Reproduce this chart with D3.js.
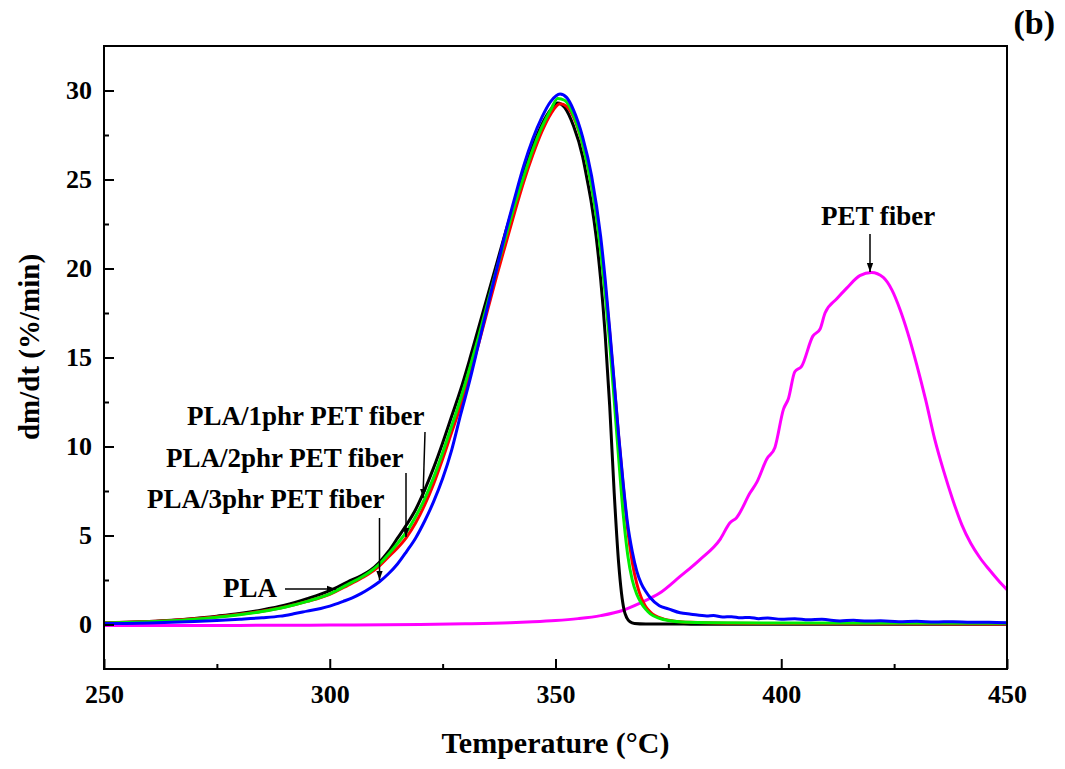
<!DOCTYPE html>
<html>
<head>
<meta charset="utf-8">
<script src="https://cdn.jsdelivr.net/npm/d3@7"></script>
<style>
  html, body { margin: 0; padding: 0; background: #fff; }
  svg { display: block; }
  text { font-family: "Liberation Serif", "Times New Roman", serif; font-weight: bold; fill: #000; }
</style>
</head>
<body>
<svg id="chart" width="1065" height="769"></svg>
<script>
// ---------- data (temperature °C, dm/dt %/min) ----------
const plaData = [[250,0.08],[255,0.12],[260,0.17],[265,0.24],[270,0.34],[275,0.47],[280,0.62],[285,0.82],[290,1.08],[295,1.45],[300,1.9],[304,2.4],[307,2.75],[309,3.05],[311,3.5],[313,4.1],[315,4.85],[317,5.6],[319,6.45],[321,7.55],[323,8.8],[325,10.2],[327,11.7],[329,13.2],[331,14.9],[333,16.7],[335,18.5],[337,20.3],[339,22.1],[341,23.8],[343,25.4],[345,26.9],[347,28.1],[349,28.95],[350.5,29.3],[352,29.05],[354,28.0],[356,26.3],[357,25.0],[358,23.6],[359,21.8],[360,19.4],[361,16.3],[362,12.3],[363,7.4],[364,3.4],[364.6,1.8],[365.2,0.8],[365.8,0.37],[366.5,0.15],[367.5,0.06],[370,0.03],[380,0.02],[400,0.01],[450,0.01]];

const pla1Data = [[250,0.1],[255,0.13],[260,0.17],[265,0.23],[270,0.32],[275,0.43],[280,0.57],[285,0.75],[290,0.98],[295,1.3],[300,1.7],[304,2.2],[307,2.6],[309,2.9],[311,3.3],[313,3.8],[315,4.3],[317,4.9],[319,5.7],[321,6.7],[323,7.9],[325,9.3],[327,10.8],[329,12.3],[331,14.0],[333,15.8],[335,17.7],[337,19.6],[339,21.4],[341,23.2],[343,24.9],[345,26.4],[347,27.7],[349,28.7],[351,29.25],[352.5,29.1],[354,28.5],[356,27.0],[358,24.7],[360,21.3],[361,19.0],[362,16.4],[363,13.5],[364,10.5],[365,7.8],[366,5.3],[367,3.5],[368,2.3],[369,1.5],[370,1.0],[371,0.7],[372,0.5],[374,0.3],[376,0.2],[380,0.12],[390,0.07],[400,0.05],[450,0.03]];

const pla2Data = [[250,0.08],[255,0.11],[260,0.15],[265,0.21],[270,0.3],[275,0.41],[280,0.55],[285,0.73],[290,0.97],[295,1.3],[300,1.72],[304,2.25],[307,2.65],[309,2.98],[311,3.4],[313,3.95],[315,4.55],[317,5.2],[319,6.05],[321,7.05],[323,8.25],[325,9.65],[327,11.15],[329,12.7],[331,14.4],[333,16.2],[335,18.1],[337,20.0],[339,21.8],[341,23.6],[343,25.2],[345,26.7],[347,27.95],[349,28.95],[350.5,29.55],[352,29.45],[354,28.6],[356,27.0],[358,24.6],[359,23.0],[360,21.0],[361,18.6],[362,15.8],[363,12.6],[364,9.3],[365,6.2],[366,3.9],[367,2.5],[368,1.7],[369,1.2],[370,0.85],[371,0.6],[373,0.35],[375,0.22],[378,0.14],[385,0.1],[400,0.08],[450,0.07]];

const pla3Data = [[250,0.05],[255,0.06],[260,0.08],[265,0.12],[270,0.17],[275,0.23],[280,0.3],[285,0.38],[289,0.47],[292,0.6],[295,0.75],[298,0.9],[300,1.03],[303,1.3],[305,1.5],[307,1.75],[309,2.05],[311,2.4],[313,2.85],[315,3.4],[317,4.1],[319,4.85],[321,5.8],[323,6.9],[325,8.2],[327,9.8],[329,11.8],[331,13.7],[333,15.8],[335,17.9],[337,20.0],[339,22.1],[341,24.0],[343,25.8],[345,27.3],[347,28.5],[349,29.4],[351,29.8],[352.5,29.6],[354,28.9],[356,27.4],[358,25.2],[360,21.8],[361,19.4],[362,16.6],[363,13.6],[364,10.6],[365,7.9],[366,5.6],[367,4.1],[368,3.0],[369,2.3],[370,1.85],[371,1.5],[373,1.05],[375,0.88],[377.6,0.66],[380,0.58],[383.5,0.48],[385,0.5],[387,0.42],[389,0.44],[391,0.38],[393,0.4],[395,0.33],[397,0.36],[400,0.3],[403,0.33],[406,0.27],[409,0.29],[413,0.2],[416,0.24],[419,0.19],[422,0.21],[426,0.16],[430,0.18],[434,0.14],[438,0.16],[442,0.12],[446,0.13],[450,0.1]];

const petData = [[250,-0.05],[280,-0.05],[300,-0.03],[320,0.0],[330,0.04],[340,0.1],[345,0.15],[350,0.22],[355,0.33],[360,0.5],[365,0.8],[368.7,1.2],[373,1.75],[377.6,2.7],[382,3.65],[386.5,4.8],[388.6,5.7],[390.1,6.0],[393.1,7.4],[394.6,8.0],[396.8,9.3],[398.6,9.95],[400.5,12.1],[401.6,12.7],[403,14.2],[404.5,14.5],[407,16.2],[408.6,16.6],[409.7,17.5],[412.3,18.3],[414.5,18.9],[417.4,19.6],[420,19.78],[422.6,19.5],[424.5,18.8],[426.3,17.7],[428,16.4],[430,14.6],[432,12.6],[434,10.4],[436,8.6],[438,7.0],[440,5.6],[442,4.55],[444,3.75],[446,3.1],[448,2.5],[450,1.95]];

const xMajorTicks = [250, 300, 350, 400, 450];
const xMinorTicks = [275, 325, 375, 425];
const yMajorTicks = [0, 5, 10, 15, 20, 25, 30];
const yMinorTicks = [2.5, 7.5, 12.5, 17.5, 22.5, 27.5];

const seriesNames = ["PET fiber", "PLA", "PLA/1phr PET fiber", "PLA/2phr PET fiber", "PLA/3phr PET fiber"];
const seriesColors = ["#ff00ff", "#000000", "#ff0000", "#00ee00", "#0000ff"];
const seriesData = [petData, plaData, pla1Data, pla2Data, pla3Data];

// ---------- layout ----------
const svg = d3.select("#chart");
const margin = {left: 104, right: 58, top: 46, bottom: 100};
const W = 1065, H = 769;
const iw = W - margin.left - margin.right;
const ih = H - margin.top - margin.bottom;

const x = d3.scaleLinear().domain([250, 450]).range([margin.left, margin.left + iw]);
const y = d3.scaleLinear().domain([-2.5, 32.5]).range([margin.top + ih, margin.top]);

// clip
svg.append("defs").append("clipPath").attr("id", "clip")
  .append("rect").attr("x", margin.left).attr("y", margin.top).attr("width", iw).attr("height", ih);

// curves
const line = d3.line().x(d => x(d[0])).y(d => y(d[1])).curve(d3.curveMonotoneX);
const g = svg.append("g").attr("clip-path", "url(#clip)");
seriesData.forEach((data, i) => {
  g.append("path").datum(data)
    .attr("fill", "none")
    .attr("stroke", seriesColors[i])
    .attr("stroke-width", 3)
    .attr("stroke-linejoin", "round")
    .attr("d", line);
});

// axes
const xAxis = svg.append("g").attr("transform", `translate(0,${margin.top + ih})`)
  .call(d3.axisBottom(x).tickValues(xMajorTicks).tickFormat(d3.format("d"))
    .tickSizeInner(-10).tickSizeOuter(0).tickPadding(16));
const xMinor = svg.append("g").attr("transform", `translate(0,${margin.top + ih})`)
  .call(d3.axisBottom(x).tickValues(xMinorTicks).tickFormat("").tickSizeInner(-5).tickSizeOuter(0));
const yAxis = svg.append("g").attr("transform", `translate(${margin.left},0)`)
  .call(d3.axisLeft(y).tickValues(yMajorTicks).tickFormat(d3.format("d"))
    .tickSizeInner(-10).tickSizeOuter(0).tickPadding(12));
const yMinor = svg.append("g").attr("transform", `translate(${margin.left},0)`)
  .call(d3.axisLeft(y).tickValues(yMinorTicks).tickFormat("").tickSizeInner(-5).tickSizeOuter(0));

[xAxis, xMinor, yAxis, yMinor].forEach(a => {
  a.select(".domain").remove();
  a.selectAll(".tick line").attr("stroke", "#000").attr("stroke-width", 2);
  a.selectAll(".tick text").style("font-family", "'Liberation Serif', serif")
    .style("font-weight", "bold").style("font-size", "26px").attr("fill", "#000");
});

// frame
svg.append("rect").attr("x", margin.left).attr("y", margin.top)
  .attr("width", iw).attr("height", ih)
  .attr("fill", "none").attr("stroke", "#000").attr("stroke-width", 2);

// axis titles
svg.append("text").attr("x", margin.left + iw / 2).attr("y", 753)
  .attr("text-anchor", "middle").style("font-size", "30px").text("Temperature (°C)");
svg.append("text").attr("transform", `translate(39,347) rotate(-90)`)
  .attr("text-anchor", "middle").style("font-size", "29px").text("dm/dt (%/min)");
svg.append("text").attr("x", 1055).attr("y", 34).attr("text-anchor", "end")
  .style("font-size", "34px").text("(b)");

// annotations
const defs = svg.select("defs");
defs.append("marker").attr("id", "arrow").attr("viewBox", "0 0 10 10")
  .attr("refX", 10).attr("refY", 5).attr("markerWidth", 9).attr("markerHeight", 9)
  .attr("markerUnits", "userSpaceOnUse").attr("orient", "auto")
  .append("path").attr("d", "M0,1.5 L10,5 L0,8.5 Z").attr("fill", "#000");

const labels = [
  {text: "PLA/1phr PET fiber", tx: 187, ty: 425, x1: 425, y1: 432, x2: 423, y2: 498},
  {text: "PLA/2phr PET fiber", tx: 166, ty: 467, x1: 406, y1: 473, x2: 406, y2: 537},
  {text: "PLA/3phr PET fiber", tx: 147, ty: 508, x1: 379.5, y1: 518, x2: 379.5, y2: 580},
  {text: "PLA", tx: 223, ty: 597, x1: 285, y1: 589, x2: 336, y2: 589},
  {text: "PET fiber", tx: 821, ty: 225, x1: 870, y1: 234, x2: 870, y2: 272}
];
labels.forEach(l => {
  svg.append("text").attr("x", l.tx).attr("y", l.ty).style("font-size", "27px").text(l.text);
  svg.append("line").attr("x1", l.x1).attr("y1", l.y1).attr("x2", l.x2).attr("y2", l.y2)
    .attr("stroke", "#000").attr("stroke-width", 1.5).attr("marker-end", "url(#arrow)");
});
</script>
</body>
</html>
